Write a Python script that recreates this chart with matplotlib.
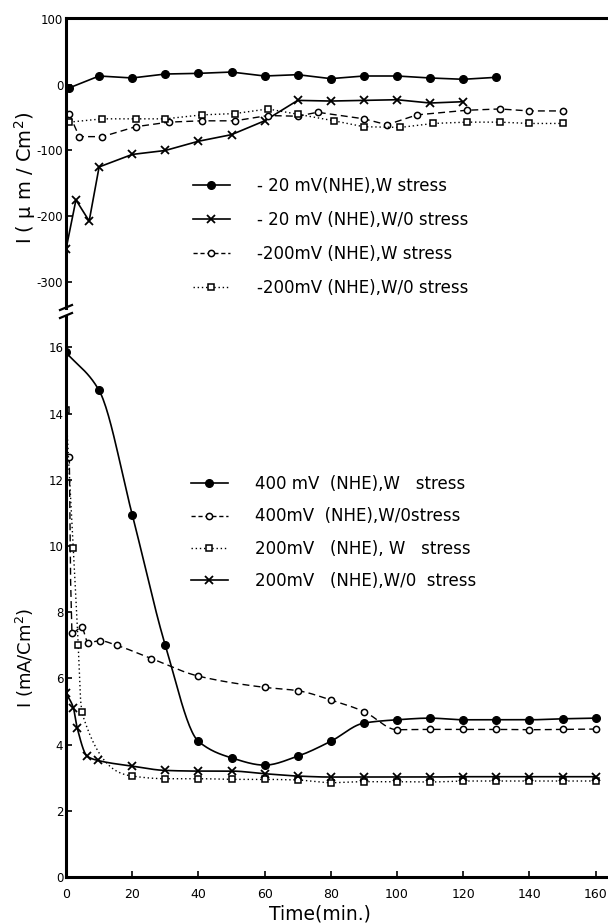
import numpy as np
import matplotlib
matplotlib.use("Agg")
import matplotlib.pyplot as plt
from matplotlib.lines import Line2D

plt.rcParams['font.family'] = ['DejaVu Sans']
plt.rcParams['axes.unicode_minus'] = False

# ---------------- data: upper panel (µA/cm², -20 / -200 mV) ----------------
t_m20_w = [1, 10, 20, 30, 40, 50, 60, 70, 80, 90, 100, 110, 120, 130]
v_m20_w = [-5, 13, 10, 16, 17, 19, 13, 15, 9, 13, 13, 10, 8, 11]

t_m20_wo = [0, 3, 7, 10, 20, 30, 40, 50, 60, 70, 80, 90, 100, 110, 120]
v_m20_wo = [-250, -175, -207, -125, -106, -100, -86, -76, -55, -24, -25, -24, -23, -28, -26]

t_m200_w = [1, 4, 11, 21, 31, 41, 51, 61, 70, 76, 90, 97, 106, 121, 131, 140, 150]
v_m200_w = [-45, -79, -79, -64, -57, -55, -55, -47, -48, -42, -52, -61, -46, -39, -37, -40, -40]

t_m200_wo = [1, 11, 21, 30, 41, 51, 61, 70, 81, 90, 101, 111, 121, 131, 140, 150]
v_m200_wo = [-57, -52, -52, -52, -46, -44, -37, -45, -55, -64, -65, -59, -57, -57, -59, -59]

# ---------------- data: lower panel (mA/cm², 400 / 200 mV) ----------------
t_400_w = [0, 10, 20, 30, 40, 50, 60, 70, 80, 90, 100, 110, 120, 130, 140, 150, 160]
v_400_w = [15.85, 14.7, 10.95, 7.0, 4.1, 3.6, 3.38, 3.65, 4.1, 4.65, 4.75, 4.8, 4.75, 4.75, 4.75, 4.78, 4.8]

t_400_wo = [1, 1.7, 4.7, 6.7, 10.2, 15.3, 25.8, 40, 60, 70, 80, 90, 100, 110, 120, 130, 140, 150, 160]
v_400_wo = [12.7, 7.36, 7.54, 7.08, 7.14, 7.0, 6.6, 6.07, 5.73, 5.63, 5.35, 5.0, 4.45, 4.46, 4.46, 4.46, 4.45, 4.46, 4.47]

t_200_w = [0, 2.2, 3.7, 4.7, 20, 30, 40, 50, 60, 70, 80, 90, 100, 110, 120, 130, 140, 150, 160]
v_200_w = [14.1, 9.95, 7.0, 5.0, 3.05, 2.97, 2.97, 2.95, 2.95, 2.93, 2.85, 2.88, 2.88, 2.87, 2.9, 2.9, 2.9, 2.9, 2.9]

t_200_wo = [0, 2.2, 3.4, 6.4, 9.7, 20, 30, 40, 50, 60, 70, 80, 90, 100, 110, 120, 130, 140, 150, 160]
v_200_wo = [5.55, 5.12, 4.5, 3.65, 3.52, 3.35, 3.22, 3.2, 3.2, 3.12, 3.05, 3.02, 3.02, 3.02, 3.02, 3.03, 3.03, 3.03, 3.03, 3.03]

labels_top = ["- 20 mV(NHE),W stress", "- 20 mV (NHE),W/0 stress",
              "-200mV (NHE),W stress", "-200mV (NHE),W/0 stress"]
labels_bot = ["400 mV  (NHE),W   stress", "400mV  (NHE),W/0stress",
              "200mV   (NHE), W   stress", "200mV   (NHE),W/0  stress"]

x_ticks = [0, 20, 40, 60, 80, 100, 120, 140, 160]
top_ticks = [100, 0, -100, -200, -300]
bot_ticks = [0, 2, 4, 6, 8, 10, 12, 14, 16]


def pchip(x, y, n=400):
    x = np.asarray(x, float); y = np.asarray(y, float)
    h = np.diff(x); d = np.diff(y) / h
    m = np.zeros_like(y)
    m[0], m[-1] = d[0], d[-1]
    for k in range(1, len(x) - 1):
        if d[k - 1] * d[k] > 0:
            w1 = 2 * h[k] + h[k - 1]; w2 = h[k] + 2 * h[k - 1]
            m[k] = (w1 + w2) / (w1 / d[k - 1] + w2 / d[k])
    xn = np.linspace(x[0], x[-1], n)
    idx = np.clip(np.searchsorted(x, xn) - 1, 0, len(x) - 2)
    hh = h[idx]; s = (xn - x[idx]) / hh
    h00 = 2 * s**3 - 3 * s**2 + 1; h10 = s**3 - 2 * s**2 + s
    h01 = -2 * s**3 + 3 * s**2; h11 = s**3 - s**2
    yn = h00 * y[idx] + h10 * hh * m[idx] + h01 * y[idx + 1] + h11 * hh * m[idx + 1]
    return xn, yn


W, H = 608, 924
fig = plt.figure(figsize=(W / 100, H / 100), dpi=100)
L, R = 66 / W, 1.0
ax1 = fig.add_axes([L, 1 - 308 / H, R - L, (308 - 18) / H])
ax2 = fig.add_axes([L, 1 - 877 / H, R - L, (877 - 316) / H])

k = 'black'
lw = 1.2
# upper panel
ax1.plot(t_m20_w, v_m20_w, '-', color=k, lw=lw, marker='o', ms=5.5, mfc=k, mec=k)
ax1.plot(t_m20_wo, v_m20_wo, '-', color=k, lw=lw, marker='x', ms=6, mew=1.3)
ax1.plot(t_m200_w, v_m200_w, color=k, lw=1.0, ls=(0, (5, 3)), marker='o', ms=4.5, mfc='white', mec=k, mew=1.1)
ax1.plot(t_m200_wo, v_m200_wo, color=k, lw=1.0, ls=(0, (1, 2)), marker='s', ms=4, mfc='white', mec=k, mew=1.1)

# lower panel (smooth curves through the points)
xs, ys = pchip(t_400_w, v_400_w)
ax2.plot(xs, ys, '-', color=k, lw=lw)
ax2.plot(t_400_w, v_400_w, 'o', color=k, ms=5.5)
xs, ys = pchip(t_400_wo, v_400_wo)
ax2.plot(xs, ys, color=k, lw=1.0, ls=(0, (5, 3)))
ax2.plot(t_400_wo, v_400_wo, 'o', ms=4.5, mfc='white', mec=k, mew=1.1)
xs, ys = pchip(t_200_w, v_200_w)
ax2.plot(xs, ys, color=k, lw=1.0, ls=(0, (1, 2)))
ax2.plot(t_200_w, v_200_w, 's', ms=4, mfc='white', mec=k, mew=1.1)
xs, ys = pchip(t_200_wo, v_200_wo)
ax2.plot(xs, ys, '-', color=k, lw=lw)
ax2.plot(t_200_wo, v_200_wo, 'x', color=k, ms=6, mew=1.3)

xmax = (608 - 66) / 3.31
for ax in (ax1, ax2):
    ax.set_xlim(0, xmax)
    ax.spines['right'].set_visible(False)
    ax.tick_params(axis='y', direction='in', length=4, width=1.2, labelsize=8.5, pad=2)
    ax.spines['left'].set_linewidth(2.2)

ax1.set_ylim(-339, 101)
ax1.set_yticks(top_ticks)
ax1.set_yticklabels([str(v) for v in top_ticks])
ax1.spines['bottom'].set_visible(False)
ax1.spines['top'].set_linewidth(2.2)
ax1.set_xticks([])

ax2.set_ylim(0, 16.95)
ax2.set_yticks(bot_ticks)
ax2.set_yticklabels([str(v) for v in bot_ticks])
ax2.spines['top'].set_visible(False)
ax2.spines['bottom'].set_linewidth(2.2)
ax2.set_xticks(x_ticks)
ax2.set_xticklabels([str(v) for v in x_ticks])
ax2.tick_params(axis='x', direction='in', length=4, width=1.2, labelsize=9, pad=8)

# legends
h_top = [Line2D([], [], color=k, lw=lw, marker='o', ms=5.5),
         Line2D([], [], color=k, lw=lw, marker='x', ms=6, mew=1.3),
         Line2D([], [], color=k, lw=1.0, ls=(0, (3, 2)), marker='o', ms=4.5, mfc='white', mew=1.1),
         Line2D([], [], color=k, lw=1.0, ls=(0, (1, 2)), marker='s', ms=4, mfc='white', mew=1.1)]
h_bot = [Line2D([], [], color=k, lw=lw, marker='o', ms=5.5),
         Line2D([], [], color=k, lw=1.0, ls=(0, (3, 2)), marker='o', ms=4.5, mfc='white', mew=1.1),
         Line2D([], [], color=k, lw=1.0, ls=(0, (1, 2)), marker='s', ms=4, mfc='white', mew=1.1),
         Line2D([], [], color=k, lw=lw, marker='x', ms=6, mew=1.3)]
leg_kw = dict(frameon=False, fontsize=12, handlelength=2.2, handletextpad=1.65,
              labelspacing=0.96, borderpad=0, borderaxespad=0, loc='upper left')
fig.legend(h_top, labels_top, bbox_to_anchor=(193 / W, 1 - 177 / H), **leg_kw)
fig.legend(h_bot, labels_bot, bbox_to_anchor=(191 / W, 1 - 475 / H),
           **dict(leg_kw, labelspacing=0.86))

# axis labels
fig.text(25 / W, 1 - 178 / H, 'I ( µ m / Cm$^2$)', rotation=90, ha='center', va='center', fontsize=14)
fig.text(25 / W, 1 - 658 / H, 'I (mA/Cm$^2$)', rotation=90, ha='center', va='center', fontsize=13)
fig.text(320 / W, 1 - 914 / H, 'Time(min.)', ha='center', va='center', fontsize=13.5)

# axis break marks
fig.add_artist(Line2D([60 / W, 72 / W], [1 - 310 / H, 1 - 305 / H], color=k, lw=1.6))
fig.add_artist(Line2D([60 / W, 72 / W], [1 - 318 / H, 1 - 313 / H], color=k, lw=1.6))

fig.savefig('out.png', dpi=100)
